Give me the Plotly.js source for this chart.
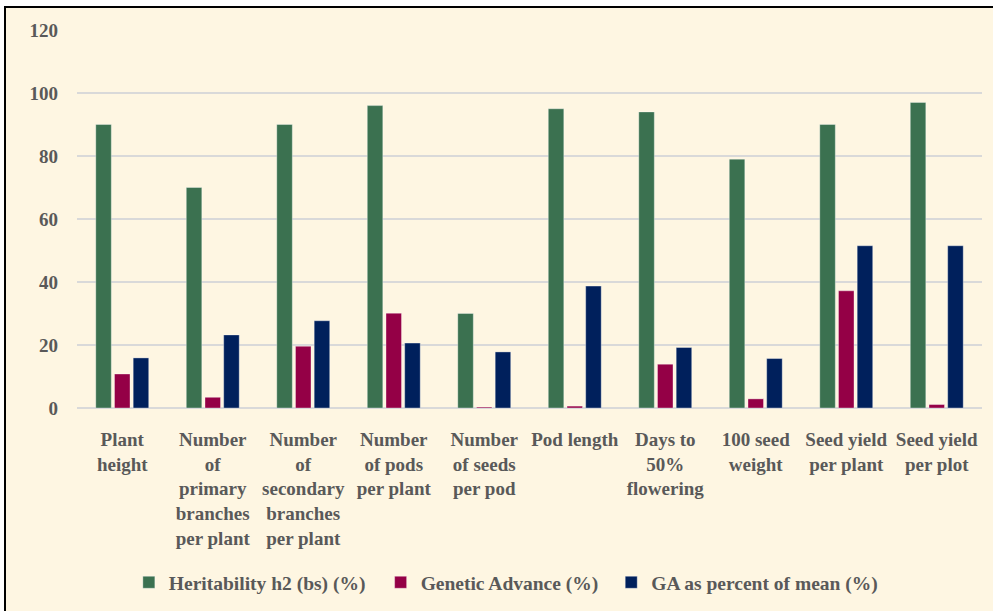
<!DOCTYPE html>
<html>
<head>
<meta charset="utf-8">
<script src="https://cdn.plot.ly/plotly-3.0.1.min.js"></script>
<style>
  html, body { margin: 0; padding: 0; background: #ffffff; width: 993px; height: 611px; overflow: hidden; }
  #chart { position: absolute; left: 4px; top: 6px; width: 989px; height: 605px;
           border-left: 2px solid #000; border-top: 2px solid #000; background: #FEF6E2; }
</style>
</head>
<body>
<div id="chart"></div>
<script>
const categories = [
  "Plant<br>height",
  "Number<br>of<br>primary<br>branches<br>per plant",
  "Number<br>of<br>secondary<br>branches<br>per plant",
  "Number<br>of pods<br>per plant",
  "Number<br>of seeds<br>per pod",
  "Pod length",
  "Days to<br>50%<br>flowering",
  "100 seed<br>weight",
  "Seed yield<br>per plant",
  "Seed yield<br>per plot"
];
const heritability = [90, 70, 90, 96, 30, 95, 94, 79, 90, 97];
const geneticAdvance = [10.8, 3.4, 19.6, 30.1, 0.3, 0.6, 13.9, 2.9, 37.2, 1.1];
const gaPercentMean = [15.9, 23.2, 27.7, 20.6, 17.8, 38.7, 19.2, 15.7, 51.5, 51.5];
const seriesNames = ["Heritability h2 (bs) (%)", "Genetic Advance (%)", "GA as percent of mean (%)"];
const yTicks = [0, 20, 40, 60, 80, 100, 120];

const fontFam = 'Liberation Serif, Times New Roman, serif';
const txtColor = '#595959';
const outline = {color: 'rgba(255,255,255,0.35)', width: 1};
const fx = {family: fontFam, size: 19, color: txtColor, weight: 'bold'};
const fy = {family: fontFam, size: 19, color: txtColor, weight: 'bold'};
const fl = {family: fontFam, size: 19.5, color: txtColor, weight: 'bold'};

const traces = [
  {type: 'bar', name: seriesNames[0], x: categories, y: heritability, legend: 'legend', marker: {color: '#3B7150', line: outline}},
  {type: 'bar', name: seriesNames[1], x: categories, y: geneticAdvance, legend: 'legend2', marker: {color: '#940046', line: outline}},
  {type: 'bar', name: seriesNames[2], x: categories, y: gaPercentMean, legend: 'legend3', marker: {color: '#00205C', line: outline}}
];

function leg(x) {
  return {orientation: 'h', x: x, xanchor: 'left', y: -0.458, yanchor: 'middle',
          font: fl, bgcolor: 'rgba(0,0,0,0)', borderwidth: 0, itemwidth: 30};
}

const layout = {
  width: 987, height: 603,
  paper_bgcolor: '#FEF6E2', plot_bgcolor: '#FEF6E2',
  margin: {l: 71, r: 11, t: 22, b: 202},
  barmode: 'group', bargap: 0.38, bargroupgap: 0.17,
  font: fx,
  xaxis: {
    tickfont: fx,
    showgrid: false, showline: false, zeroline: false, ticks: '',
    tickangle: 0, ticklabelstandoff: 18, fixedrange: true
  },
  yaxis: {
    range: [0, 120], tickvals: yTicks, ticktext: yTicks.map(String),
    tickfont: fy,
    showgrid: true, gridcolor: '#D9D9D9', gridwidth: 1.5,
    zeroline: true, zerolinecolor: '#D9D9D9', zerolinewidth: 1.5,
    showline: false, ticks: '', ticklabelstandoff: 18, fixedrange: true
  },
  legend: leg(0.0573),
  legend2: leg(0.3355),
  legend3: leg(0.5903),
  showlegend: true
};

Plotly.newPlot('chart', traces, layout, {displayModeBar: false, staticPlot: true});
</script>
</body>
</html>
